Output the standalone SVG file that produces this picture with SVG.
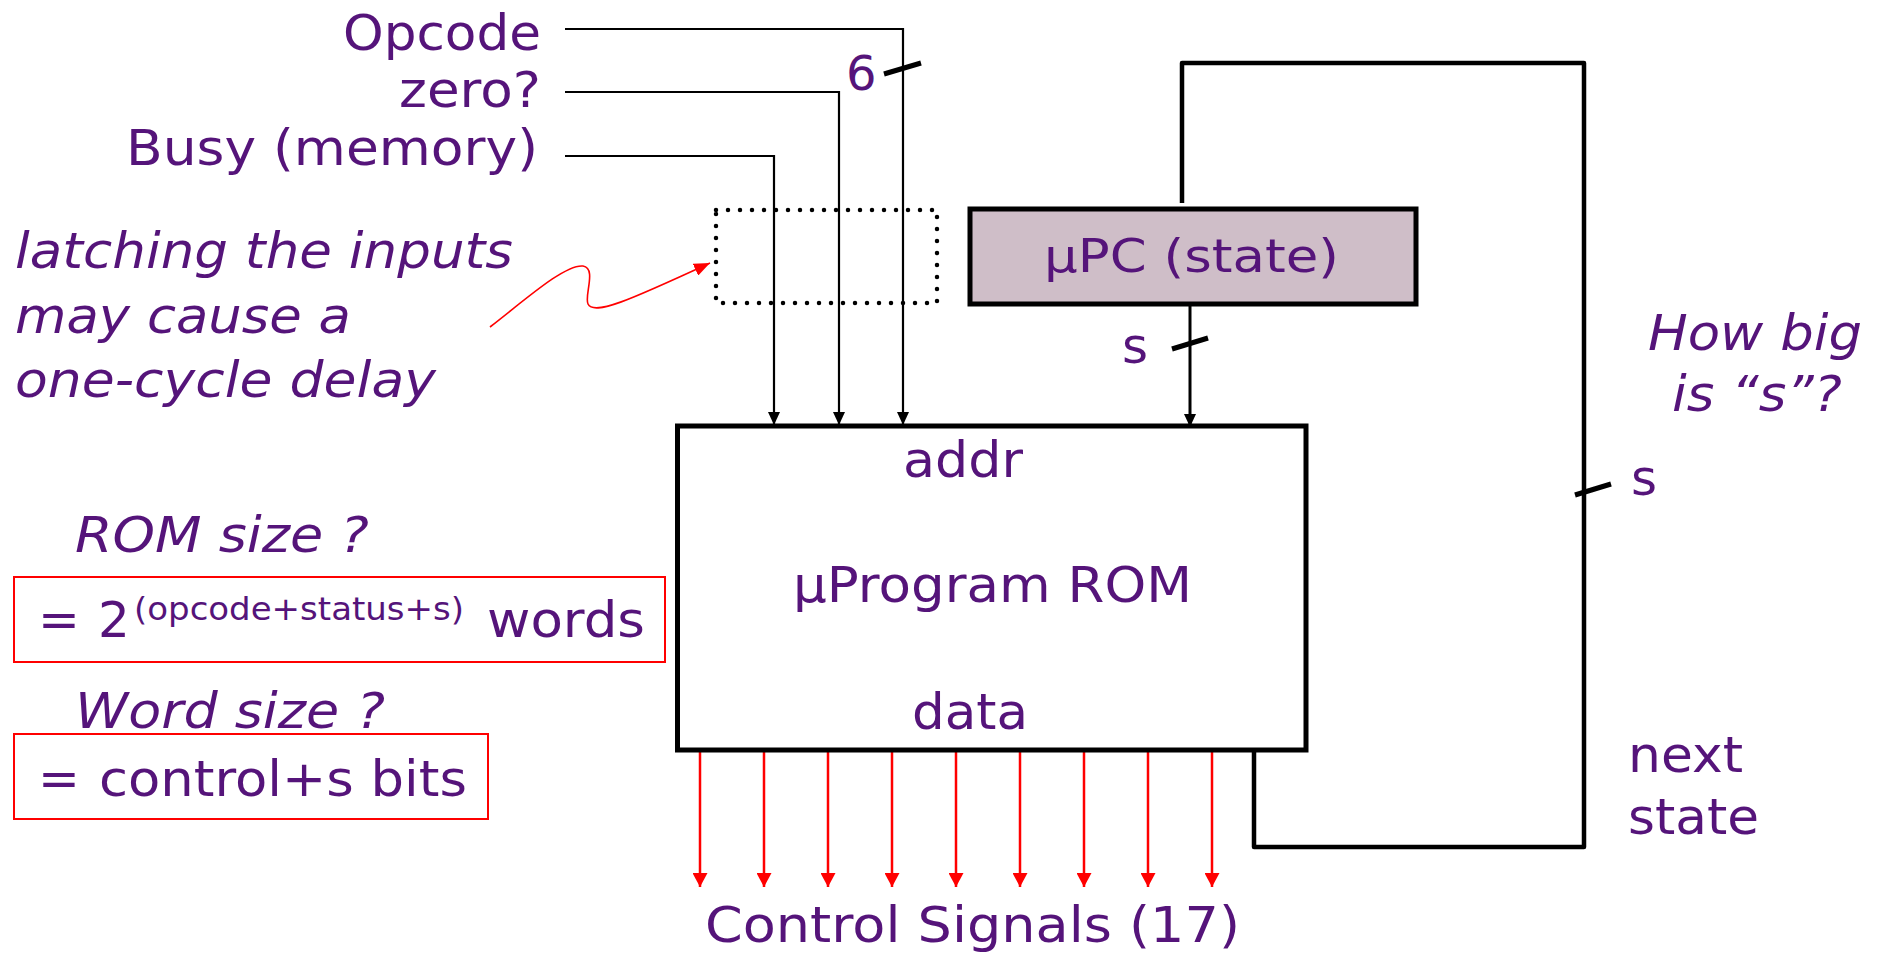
<svg xmlns="http://www.w3.org/2000/svg" width="1889" height="953" viewBox="0 0 1889 953">
<style>
text{font-family:"DejaVu Sans","Liberation Sans",sans-serif;fill:#55147A;font-size:50px}
.it{font-style:italic}
.w{fill:none;stroke:#000;stroke-width:2.2}
.wb{fill:none;stroke:#000;stroke-width:4.5}
.slash{stroke:#000;stroke-width:5}
.red{fill:none;stroke:#FF0000;stroke-width:2.5}
</style>
<defs>
<marker id="ab" viewBox="0 0 13 12" refX="13" refY="6" markerWidth="13" markerHeight="12" markerUnits="userSpaceOnUse" orient="auto"><path d="M0,0 L13,6 L0,12 z" fill="#000"/></marker>
<marker id="ar" viewBox="0 0 14 15" refX="14" refY="7.5" markerWidth="14" markerHeight="15" markerUnits="userSpaceOnUse" orient="auto"><path d="M0,0 L14,7.5 L0,15 z" fill="#FF0000"/></marker>
<marker id="arz" viewBox="0 0 16 13" refX="16" refY="6.5" markerWidth="16" markerHeight="13" markerUnits="userSpaceOnUse" orient="auto"><path d="M0,0 L16,6.5 L0,13 z" fill="#FF0000"/></marker>
</defs>

<g id="connectors">
<path class="w" d="M565,29 H903 V425" marker-end="url(#ab)"/>
<path class="w" d="M565,92 H839 V425" marker-end="url(#ab)"/>
<path class="w" d="M565,156 H774 V425" marker-end="url(#ab)"/>
<line class="slash" x1="884" y1="74" x2="921" y2="63"/>
<path class="wb" d="M1254,750 V847 H1584 V63 H1182 V203" stroke-linejoin="round"/>
<line class="slash" x1="1575" y1="495" x2="1611" y2="484"/>
<path class="w" d="M1190,304 V427" style="stroke-width:3" marker-end="url(#ab)"/>
<line class="slash" x1="1172" y1="349" x2="1208" y2="338"/>
<g id="control-signals">
<line class="red" x1="700" y1="752" x2="700" y2="887" marker-end="url(#ar)"/>
<line class="red" x1="764" y1="752" x2="764" y2="887" marker-end="url(#ar)"/>
<line class="red" x1="828" y1="752" x2="828" y2="887" marker-end="url(#ar)"/>
<line class="red" x1="892" y1="752" x2="892" y2="887" marker-end="url(#ar)"/>
<line class="red" x1="956" y1="752" x2="956" y2="887" marker-end="url(#ar)"/>
<line class="red" x1="1020" y1="752" x2="1020" y2="887" marker-end="url(#ar)"/>
<line class="red" x1="1084" y1="752" x2="1084" y2="887" marker-end="url(#ar)"/>
<line class="red" x1="1148" y1="752" x2="1148" y2="887" marker-end="url(#ar)"/>
<line class="red" x1="1212" y1="752" x2="1212" y2="887" marker-end="url(#ar)"/>
</g>
<path d="M490,327 C525,300 565,264 583,266 C597,268 584,296 588,304 C594,316 630,300 710,263" fill="none" stroke="#FF0000" stroke-width="1.6" marker-end="url(#arz)"/>
</g>

<g id="input-labels">
<text x="343" y="50" textLength="198" lengthAdjust="spacingAndGlyphs">Opcode</text>
<text x="399" y="107" textLength="142" lengthAdjust="spacingAndGlyphs">zero?</text>
<text x="126" y="165" textLength="412" lengthAdjust="spacingAndGlyphs">Busy (memory)</text>
<text x="846" y="90" style="font-size:48px">6</text>
</g>

<g id="latch">
<rect x="716" y="210" width="221" height="93" fill="none" stroke="#000" stroke-width="4.5" stroke-dasharray="0 12" stroke-linecap="round"/>
</g>

<g id="latch-note">
<text class="it" x="15" y="268" textLength="498" lengthAdjust="spacingAndGlyphs">latching the inputs</text>
<text class="it" x="15" y="333" textLength="336" lengthAdjust="spacingAndGlyphs">may cause a</text>
<text class="it" x="15" y="397" textLength="421" lengthAdjust="spacingAndGlyphs">one-cycle delay</text>
</g>

<g id="upc">
<rect x="970" y="209" width="446" height="95" fill="#CFBEC8" stroke="#000" stroke-width="5"/>
<text x="1044" y="272" style="font-size:47px" textLength="295" lengthAdjust="spacingAndGlyphs">μPC (state)</text>
<text x="1122" y="363">s</text>
</g>

<g id="rom">
<rect x="677.5" y="426" width="628.5" height="324" fill="none" stroke="#000" stroke-width="5"/>
<text x="903" y="477" textLength="120" lengthAdjust="spacingAndGlyphs">addr</text>
<text x="793" y="602" textLength="399" lengthAdjust="spacingAndGlyphs">μProgram ROM</text>
<text x="912" y="729" textLength="116" lengthAdjust="spacingAndGlyphs">data</text>
</g>

<g id="control-label">
<text x="705" y="942" textLength="535" lengthAdjust="spacingAndGlyphs">Control Signals (17)</text>
</g>

<g id="rom-size">
<text class="it" x="75" y="552" textLength="294" lengthAdjust="spacingAndGlyphs">ROM size ?</text>
<rect x="14" y="577" width="651" height="85" fill="none" stroke="#FF0000" stroke-width="2"/>
<text x="38" y="637">=</text>
<text x="98" y="637">2</text>
<text x="134" y="620" style="font-size:32px" textLength="330" lengthAdjust="spacingAndGlyphs">(opcode+status+s)</text>
<text x="487" y="637" textLength="158" lengthAdjust="spacingAndGlyphs">words</text>
</g>

<g id="word-size">
<text class="it" x="75" y="728" textLength="310" lengthAdjust="spacingAndGlyphs">Word size ?</text>
<rect x="14" y="734" width="474" height="85" fill="none" stroke="#FF0000" stroke-width="2"/>
<text x="38" y="796">=</text>
<text x="99" y="796" textLength="368" lengthAdjust="spacingAndGlyphs">control+s bits</text>
</g>

<g id="feedback-labels">
<text class="it" x="1648" y="350" textLength="214" lengthAdjust="spacingAndGlyphs">How big</text>
<text class="it" x="1672" y="411" textLength="170" lengthAdjust="spacingAndGlyphs">is “s”?</text>
<text x="1631" y="495">s</text>
<text x="1628" y="772" textLength="115" lengthAdjust="spacingAndGlyphs">next</text>
<text x="1628" y="834" textLength="131" lengthAdjust="spacingAndGlyphs">state</text>
</g>
</svg>
